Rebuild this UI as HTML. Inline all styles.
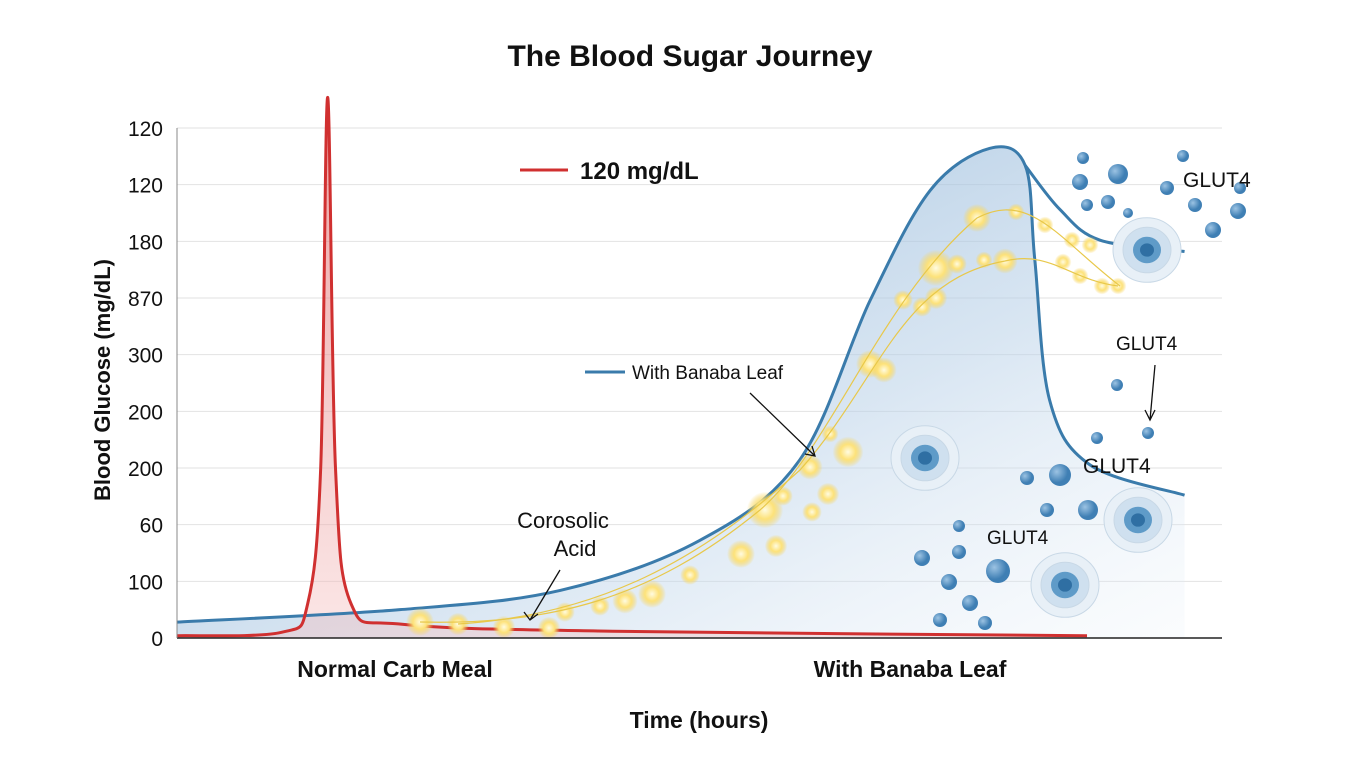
<!DOCTYPE html>
<html><head><meta charset="utf-8"><style>
html,body{margin:0;padding:0;background:#fff;}
svg{display:block;font-family:"Liberation Sans",sans-serif;}
</style></head><body>
<svg id="chart" width="1365" height="768" viewBox="0 0 1365 768">
<defs>
<linearGradient id="fillG" x1="0" y1="0" x2="1" y2="1">
<stop offset="0" stop-color="#7fa9d0" stop-opacity="0.85"/>
<stop offset="0.6" stop-color="#b9d1e8" stop-opacity="0.55"/>
<stop offset="1" stop-color="#e8f0f8" stop-opacity="0.2"/>
</linearGradient>
<linearGradient id="redG" x1="0" y1="0" x2="0" y2="1">
<stop offset="0" stop-color="#e06060" stop-opacity="0.6"/>
<stop offset="1" stop-color="#f4c0c0" stop-opacity="0.4"/>
</linearGradient>
<radialGradient id="gold"><stop offset="0" stop-color="#fffbe0"/><stop offset="0.5" stop-color="#fde27a"/><stop offset="1" stop-color="#f6d050" stop-opacity="0"/></radialGradient>
<radialGradient id="ball" cx="0.35" cy="0.35"><stop offset="0" stop-color="#9cc3e3"/><stop offset="1" stop-color="#3f7fb4"/></radialGradient>
</defs>
<text x="690" y="66" text-anchor="middle" font-size="30" font-weight="bold" fill="#111">The Blood Sugar Journey</text>
<g id="grid"></g>
<g id="yticks"></g>
<text transform="translate(110,380) rotate(-90)" text-anchor="middle" font-size="22" font-weight="bold" fill="#111">Blood Glucose (mg/dL)</text>
<text x="395" y="677" text-anchor="middle" font-size="23" font-weight="bold" fill="#111">Normal Carb Meal</text>
<text x="910" y="677" text-anchor="middle" font-size="23" font-weight="bold" fill="#111">With Banaba Leaf</text>
<text x="699" y="728" text-anchor="middle" font-size="23" font-weight="bold" fill="#111">Time (hours)</text>
<g id="series"></g>
<g id="deco"></g>
<line x1="177" y1="638" x2="1222" y2="638" stroke="#222" stroke-width="1.5"/>
<line x1="177" y1="128" x2="177" y2="638" stroke="#888" stroke-width="1"/>
<g>
<line x1="520" y1="170" x2="568" y2="170" stroke="#d03030" stroke-width="3"/>
<text x="580" y="179" font-size="24" font-weight="bold" fill="#111">120 mg/dL</text>
<line x1="585" y1="372" x2="625" y2="372" stroke="#3a7bab" stroke-width="3"/>
<text x="632" y="379" font-size="19" fill="#111">With Banaba Leaf</text>
</g>
<text x="563" y="528" text-anchor="middle" font-size="22" fill="#111">Corosolic</text>
<text x="575" y="556" text-anchor="middle" font-size="22" fill="#111">Acid</text>
<path d="M560 570 L530 620 M524 612 L530 620 L538 614" stroke="#111" fill="none" stroke-width="1.3"/>
<path d="M750 393 L815 456 M805 454 L815 456 L812 446" stroke="#111" fill="none" stroke-width="1.3"/>
<text x="1183" y="187" font-size="21" fill="#111">GLUT4</text>
<text x="1116" y="350" font-size="19" fill="#111">GLUT4</text>
<path d="M1155 365 L1150 420 M1145 410 L1150 420 L1155 410" stroke="#111" fill="none" stroke-width="1.3"/>
<text x="1083" y="473" font-size="21" fill="#111">GLUT4</text>
<text x="987" y="544" font-size="19" fill="#111">GLUT4</text>
</svg>
<script>
const yTickValues=[0,50,100,150,200,250,300,350,400,450];
const yTickLabels=["0","100","60","200","200","300","870","180","120","120"];
const redTimes=[0,1.2,1.5,1.65,1.73,1.82,2.0,2.6,5,10.45];
const redGlucose=[2,5,30,150,477,150,30,12,6,2];
const blueTimes=[0,2.56,4.4,6,7.15,7.96,8.65,9.33,9.74,9.85,10.02,10.48,11.57];
const blueGlucose=[14,25,42,86,157,298,395,432,417,334,210,153,126];
const branchTimes=[9.74,10.14,10.6,11.57];
const branchGlucose=[417,378,351,341];
const x=t=>177+t*(1045/12);
const y=g=>638-g*(510/450);
const NS="http://www.w3.org/2000/svg";
function mk(tag,attrs,parent){const e=document.createElementNS(NS,tag);for(const k in attrs)e.setAttribute(k,attrs[k]);parent.appendChild(e);return e;}
const grid=document.getElementById('grid'),yt=document.getElementById('yticks'),ser=document.getElementById('series'),deco=document.getElementById('deco');
yTickValues.forEach((v,i)=>{
 if(v>0){const l=mk('line',{x1:177,x2:1222,y1:y(v),y2:y(v),stroke:'#e2e2e2','stroke-width':1},grid);
 
 }
 const t=mk('text',{x:163,y:y(v)+8,'text-anchor':'end','font-size':21,fill:'#111'},yt);
 t.textContent=yTickLabels[i];
 
 
});
function smooth(ts,gs){const p=ts.map((t,i)=>[x(t),y(gs[i])]);let d=`M${p[0][0]},${p[0][1]}`;
 for(let i=0;i<p.length-1;i++){const p0=p[i-1]||p[i],p1=p[i],p2=p[i+1],p3=p[i+2]||p2;
 d+=` C${p1[0]+(p2[0]-p0[0])/6},${p1[1]+(p2[1]-p0[1])/6} ${p2[0]-(p3[0]-p1[0])/6},${p2[1]-(p3[1]-p1[1])/6} ${p2[0]},${p2[1]}`;}return d;}
const bd=smooth(blueTimes,blueGlucose);
const bf=mk('path',{d:bd+` L${x(blueTimes[blueTimes.length-1])},${y(0)} L${x(0)},${y(0)} Z`,fill:'url(#fillG)'},ser);


const rd=smooth(redTimes,redGlucose);
const rf=mk('path',{d:rd+` L${x(redTimes[redTimes.length-1])},${y(0)} L${x(0)},${y(0)} Z`,fill:'url(#redG)'},ser);


const bl=mk('path',{d:bd,fill:'none',stroke:'#3a7bab','stroke-width':3},ser);


const br=mk('path',{d:smooth(branchTimes,branchGlucose),fill:'none',stroke:'#3a7bab','stroke-width':3},ser);


const rl=mk('path',{d:rd,fill:'none',stroke:'#d03030','stroke-width':3},ser);


// decorative gold particles
const golds=[[420,622,10],[458,624,8],[504,627,8],[549,628,8],[565,612,7],[600,606,7],[625,601,9],[652,594,10],[690,575,7],[741,554,10],[776,546,8],[765,510,13],[783,496,7],[812,512,7],[828,494,8],[810,467,9],[848,452,11],[830,434,6],[870,364,10],[884,370,9],[903,300,7],[922,307,7],[936,298,8],[936,268,13],[957,264,7],[984,260,6],[1005,261,9],[977,218,10],[1016,212,6],[1045,225,6],[1072,240,6],[1090,245,6],[1063,262,6],[1080,276,6],[1102,286,6],[1118,286,6]];
golds.forEach(g=>{const c=mk('circle',{cx:g[0],cy:g[1],r:g[2]*1.4,fill:'url(#gold)'},deco);

});
mk('path',{d:'M420 622 C550 625 650 600 760 510 C830 450 880 300 977 218 C1030 190 1060 240 1120 286',fill:'none',stroke:'#e8c84a','stroke-width':1.2},deco);
mk('path',{d:'M458 624 C600 615 700 560 800 470 C880 380 900 280 1005 261 C1050 250 1070 280 1118 286',fill:'none',stroke:'#e8c84a','stroke-width':1.2},deco);
// molecules
const balls=[[1083,158,6],[1080,182,8],[1118,174,10],[1108,202,7],[1087,205,6],[1128,213,5],[1183,156,6],[1167,188,7],[1195,205,7],[1238,211,8],[1213,230,8],[1240,188,6],[1117,385,6],[1148,433,6],[1097,438,6],[1027,478,7],[1060,475,11],[1047,510,7],[1088,510,10],[959,526,6],[959,552,7],[922,558,8],[949,582,8],[998,571,12],[970,603,8],[940,620,7],[985,623,7]];
balls.forEach(b=>{const c=mk('circle',{cx:b[0],cy:b[1],r:b[2],fill:'url(#ball)'},deco);

});
const cells=[[925,458],[1147,250],[1138,520],[1065,585]];
cells.forEach(c=>{[[34,'#e8f0f7'],[24,'#cfe0ef'],[14,'#5f9bc8'],[7,'#2f6fa3']].forEach(r=>{const e=mk('ellipse',{cx:c[0],cy:c[1],rx:r[0],ry:r[0]*0.95,fill:r[1],stroke:r[0]>20?'#c8d8e6':'none'},deco);

});});
</script>
</body></html>
